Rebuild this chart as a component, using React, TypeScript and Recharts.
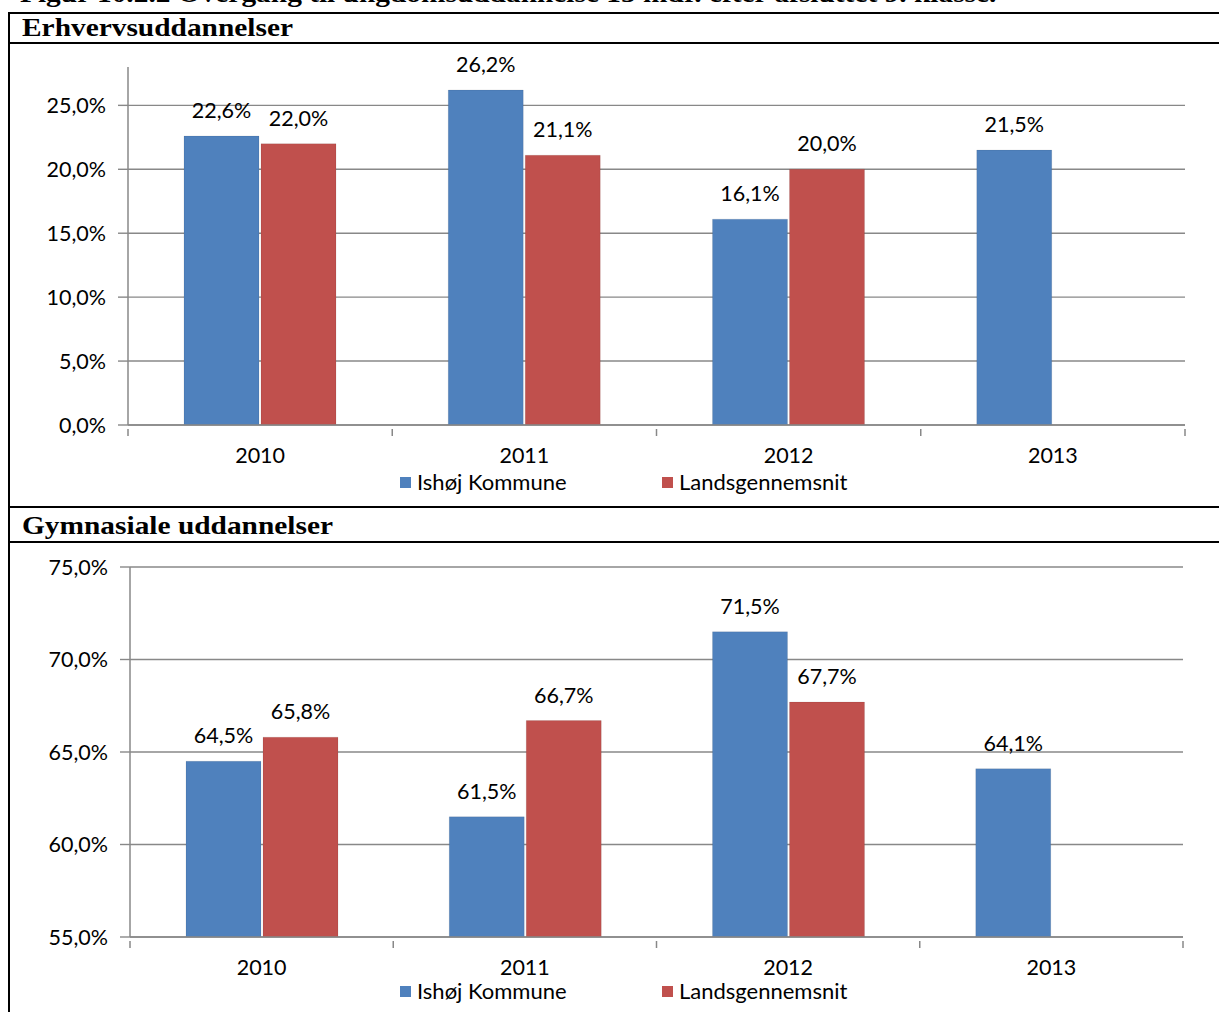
import { Bar, BarChart, CartesianGrid, LabelList, Legend, XAxis, YAxis } from "recharts"

// Chart data
const years = ["2010", "2011", "2012", "2013"]
const erhvIshoj = [22.6, 26.2, 16.1, 21.5]
const erhvLand = [22.0, 21.1, 20.0, null]
const gymIshoj = [64.5, 61.5, 71.5, 64.1]
const gymLand = [65.8, 66.7, 67.7, null]
const erhvTicks = [0, 5, 10, 15, 20, 25]
const gymTicks = [55, 60, 65, 70, 75]
const seriesNames = ["Ishøj Kommune", "Landsgennemsnit"]

const BLUE = "#4F81BD"
const RED = "#C0504D"
const GRID = "#888888"
const FONT = "Lato, 'Open Sans', sans-serif"

const erhvData = years.map((year, i) => ({ year, ishoj: erhvIshoj[i], land: erhvLand[i] }))
const gymData = years.map((year, i) => ({ year, ishoj: gymIshoj[i], land: gymLand[i] }))

const pct = (v: any) => (v == null ? "" : `${Number(v).toFixed(1).replace(".", ",")}%`)

function makeXTick(band: number, count: number) {
  return (props: any) => {
    const { x, y, payload, index } = props
    return (
      <g>
        <line x1={x - band / 2} x2={x - band / 2} y1={y - 4} y2={y + 3} stroke={GRID} strokeWidth={1.5} />
        {index === count - 1 && (
          <line x1={x + band / 2} x2={x + band / 2} y1={y - 4} y2={y + 3} stroke={GRID} strokeWidth={1.5} />
        )}
        <text x={x} y={y + 30} textAnchor="middle" fontSize={21.5} fontFamily={FONT} fill="#000">
          {payload.value}
        </text>
      </g>
    )
  }
}

function renderLegend(props: any) {
  const { payload } = props
  return (
    <div style={{ display: "flex", paddingLeft: 390, fontFamily: FONT, fontSize: 22, lineHeight: "24px" }}>
      {payload.map((entry: any) => (
        <div key={entry.value} style={{ width: 262, display: "flex", alignItems: "center" }}>
          <span style={{ width: 11, height: 11, background: entry.color, marginRight: 6, display: "inline-block" }} />
          <span>{entry.value}</span>
        </div>
      ))}
    </div>
  )
}

function Panel({ data, domain, ticks, top, height, margin, yWidth, band }: any) {
  return (
    <div style={{ position: "absolute", left: 10, top }}>
      <BarChart width={1209} height={height} data={data} margin={margin} barSize={75} barGap={2}>
        <CartesianGrid vertical={false} horizontalValues={ticks} stroke={GRID} strokeWidth={1.4} />
        <XAxis
          dataKey="year"
          height={margin.xh}
          axisLine={{ stroke: GRID, strokeWidth: 1.5 }}
          tickLine={false}
          tick={makeXTick(band, data.length)}
          interval={0}
        />
        <YAxis
          width={yWidth}
          domain={domain}
          ticks={ticks}
          allowDataOverflow
          tickFormatter={pct}
          axisLine={{ stroke: GRID, strokeWidth: 1.5 }}
          tickLine={{ stroke: GRID, strokeWidth: 1.4 }}
          tickSize={10}
          tickMargin={12}
          tick={{ fontSize: 21.5, fontFamily: FONT, fill: "#000" }}
        />
        <Legend verticalAlign="bottom" align="left" content={renderLegend} wrapperStyle={{ height: 24 }} />
        <Bar dataKey="ishoj" name={seriesNames[0]} fill={BLUE} stroke="rgba(0,0,0,0.08)" isAnimationActive={false}>
          <LabelList dataKey="ishoj" position="top" offset={18} formatter={pct} fontSize={21.5} fontFamily={FONT} fill="#000" />
        </Bar>
        <Bar dataKey="land" name={seriesNames[1]} fill={RED} stroke="rgba(0,0,0,0.08)" isAnimationActive={false}>
          <LabelList dataKey="land" position="top" offset={18} formatter={pct} fontSize={21.5} fontFamily={FONT} fill="#000" />
        </Bar>
      </BarChart>
    </div>
  )
}

const hLine = (y: number) => (
  <div style={{ position: "absolute", left: 9, top: y, width: 1210, height: 2, background: "#000" }} />
)

const headStyle: any = {
  position: "absolute",
  left: 22,
  fontFamily: "'Liberation Serif', 'Times New Roman', serif",
  fontWeight: "bold",
  fontSize: 26,
  lineHeight: "30px",
  whiteSpace: "nowrap",
  transform: "scaleX(1.13)",
  transformOrigin: "left center",
}

export default function App() {
  return (
    <div style={{ position: "absolute", left: 0, top: 0, width: 1219, height: 1012, overflow: "hidden", background: "#fff" }}>
      <div style={{ ...headStyle, left: 20, top: -21 }}>
        Figur 10.2.2 Overgang til ungdomsuddannelse 15 mdr. efter afsluttet 9. klasse.
      </div>
      <div style={{ position: "absolute", left: 8, top: 12, width: 2, height: 1000, background: "#000" }} />
      {hLine(12)}
      <div style={{ ...headStyle, top: 13 }}>Erhvervsuddannelser</div>
      {hLine(42)}
      <Panel
        data={erhvData}
        domain={[0, 28]}
        ticks={erhvTicks}
        top={50}
        height={455}
        margin={{ top: 17, right: 34, left: 0, bottom: 11, xh: 45 }}
        yWidth={118}
        band={264.25}
      />
      {hLine(506)}
      <div style={{ ...headStyle, top: 511 }}>Gymnasiale uddannelser</div>
      {hLine(541)}
      <Panel
        data={gymData}
        domain={[55, 75]}
        ticks={gymTicks}
        top={545}
        height={467}
        margin={{ top: 22, right: 36, left: 0, bottom: 9, xh: 42 }}
        yWidth={120}
        band={263.25}
      />
    </div>
  )
}
